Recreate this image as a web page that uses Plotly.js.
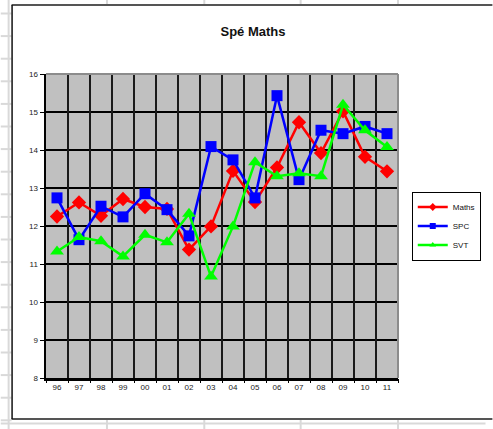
<!DOCTYPE html>
<html>
<head>
<meta charset="utf-8">
<script src="https://cdn.plot.ly/plotly-3.0.1.min.js"></script>
<style>html,body{margin:0;padding:0;background:#fff;}#chart{width:493px;height:429px;}</style>
</head>
<body>
<div id="chart"></div>
<script>
var years = ['96','97','98','99','00','01','02','03','04','05','06','07','08','09','10','11'];
var maths = [12.25,12.62,12.27,12.71,12.50,12.45,11.38,11.99,13.45,12.63,13.54,14.73,13.92,15.02,13.82,13.44];
var spc   = [12.74,11.64,12.52,12.24,12.85,12.43,11.74,14.09,13.74,12.74,15.43,13.22,14.52,14.43,14.62,14.43];
var svt   = [11.33,11.71,11.60,11.20,11.77,11.57,12.32,10.67,11.99,13.68,13.31,13.39,13.31,15.19,14.52,14.08];
var seriesNames = ['Maths','SPC','SVT'];
var yTicks = [8,9,10,11,12,13,14,15,16];

// plot area in pixels
var L = 46, R = 404, T = 74, B = 378;
function px(x){ return (x - L) / (R - L); }
function py(y){ return (B - y) / (B - T); }

var shapes = [];
// spreadsheet cell lines outside the chart frame
var cellGrey = '#d9d9d9';
shapes.push({type:'line', xref:'paper', yref:'paper', x0:px(8), x1:px(8), y0:py(0), y1:py(429), line:{color:cellGrey, width:2}, layer:'below'});
for (var k = 0; k < 19; k++) {
  var yy = 13.5 + 22.6 * k;
  shapes.push({type:'line', xref:'paper', yref:'paper', x0:px(0), x1:px(11), y0:py(yy), y1:py(yy), line:{color:cellGrey, width:2}, layer:'below'});
}
[108, 207, 305, 404].forEach(function(cx){
  shapes.push({type:'line', xref:'paper', yref:'paper', x0:px(cx), x1:px(cx), y0:py(0), y1:py(4), line:{color:cellGrey, width:2}, layer:'below'});
  shapes.push({type:'line', xref:'paper', yref:'paper', x0:px(cx), x1:px(cx), y0:py(420), y1:py(429), line:{color:cellGrey, width:2}, layer:'below'});
});
shapes.push({type:'line', xref:'paper', yref:'paper', x0:px(0), x1:px(493), y0:py(423.5), y1:py(423.5), line:{color:cellGrey, width:2}, layer:'below'});
// chart frame
shapes.push({type:'line', xref:'paper', yref:'paper', x0:px(11), x1:px(500), y0:py(5), y1:py(5), line:{color:'#555555', width:2}});
shapes.push({type:'line', xref:'paper', yref:'paper', x0:px(11), x1:px(500), y0:py(419), y1:py(419), line:{color:'#555555', width:2}});
shapes.push({type:'line', xref:'paper', yref:'paper', x0:px(11.5), x1:px(11.5), y0:py(5), y1:py(419), line:{color:'#111111', width:1.5}});
// plot area border (top/right grey)
shapes.push({type:'line', xref:'paper', yref:'paper', x0:0, x1:1, y0:1, y1:1, line:{color:'#8c8c8c', width:2}});
shapes.push({type:'line', xref:'paper', yref:'paper', x0:1, x1:1, y0:0, y1:1, line:{color:'#8c8c8c', width:2}});

var colors = ['#ff0000','#0000ff','#00ff00'];
var symbols = ['diamond','square','triangle-up'];
var sizes = [11, 11, 12];
var values = [maths, spc, svt];

// category boundaries for vertical gridlines / tick marks
var boundaries = years.map(function(_, i){ return i - 0.5; }).concat([years.length - 0.5]);

var data = [];
// empty helper trace so the boundary-grid axis (x2) is drawn
data.push({type:'scatter', mode:'markers', x:[0], y:[null], xaxis:'x2', yaxis:'y',
           showlegend:false, hoverinfo:'skip', marker:{opacity:0}});
values.forEach(function(v, i){
  data.push({
    type:'scatter', mode:'lines+markers', name:seriesNames[i], x:years, y:v,
    line:{color:colors[i], width:2.5},
    marker:{color:colors[i], symbol:symbols[i], size:sizes[i]},
    showlegend:false, legendgroup:seriesNames[i]
  });
});
// legend entries with small symbols (no data of their own)
values.forEach(function(v, i){
  data.push({
    type:'scatter', mode:'lines+markers', name:seriesNames[i], x:[years[0]], y:[null],
    line:{color:colors[i], width:2.5},
    marker:{color:colors[i], symbol:symbols[i], size:6},
    showlegend:true, legendgroup:seriesNames[i]
  });
});

var layout = {
  width:493, height:429,
  margin:{l:L, r:493-R, t:T, b:429-B, pad:0},
  paper_bgcolor:'#ffffff',
  plot_bgcolor:'#c0c0c0',
  font:{family:'Liberation Sans, Arial, sans-serif', size:8, color:'#222'},
  title:{text:'<b>Spé Maths</b>', x:253/493, xanchor:'center', xref:'container', y:1-31/429, yanchor:'middle', yref:'container',
         font:{family:'Liberation Sans, Arial, sans-serif', size:13, color:'#111'}},
  showlegend:true,
  legend:{x:px(418), xanchor:'left', y:py(226), yanchor:'middle', bgcolor:'#ffffff', bordercolor:'#000', borderwidth:1,
          font:{size:8, color:'#111'}, itemwidth:30, tracegroupgap:0},
  xaxis:{type:'category', categoryarray:years, categoryorder:'array',
         range:[-0.5, years.length - 0.5], autorange:false,
         showgrid:false, ticks:'', ticklabelstandoff:0,
         showline:true, linecolor:'#000', linewidth:2.5, zeroline:false, fixedrange:true,
         tickfont:{size:8, color:'#222'}},
  xaxis2:{type:'linear', overlaying:'x', anchor:'y', side:'bottom',
          range:[-0.5, years.length - 0.5], autorange:false,
          tickmode:'array', tickvals:boundaries, showticklabels:false,
          showgrid:true, gridcolor:'#1a1a1a', gridwidth:2,
          ticks:'outside', ticklen:4, tickwidth:1, tickcolor:'#000',
          showline:false, zeroline:false, fixedrange:true},
  yaxis:{range:[8,16], autorange:false, tickvals:yTicks, ticktext:yTicks.map(String),
         showgrid:true, gridcolor:'#000', gridwidth:1.5,
         ticks:'outside', ticklen:4, tickwidth:1, tickcolor:'#000',
         showline:true, linecolor:'#000', linewidth:2.5, zeroline:false, fixedrange:true,
         tickfont:{size:8, color:'#222'}},
  shapes:shapes
};

Plotly.newPlot('chart', data, layout, {displayModeBar:false, staticPlot:true});
</script>
</body>
</html>
